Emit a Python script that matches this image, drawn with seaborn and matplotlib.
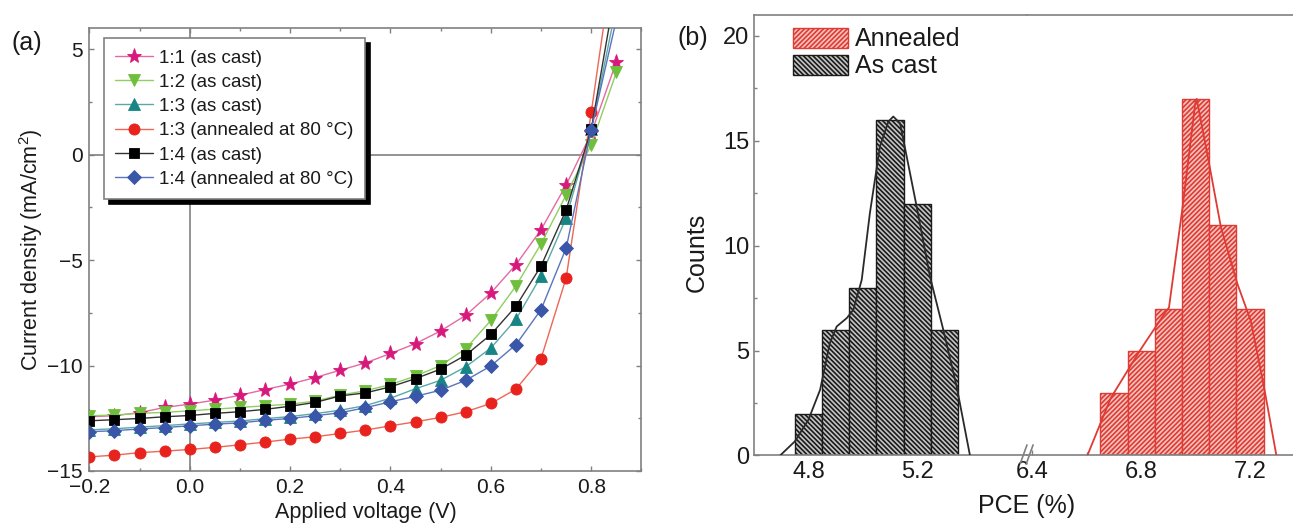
import numpy as np
import pandas as pd
import matplotlib
matplotlib.use('Agg')
from matplotlib import pyplot as plt
from matplotlib.ticker import MultipleLocator, FixedLocator
import seaborn as sns

# ---- (a) J-V curves ----
voltage = [-0.2, -0.15, -0.1, -0.05, 0.0, 0.05, 0.1, 0.15, 0.2, 0.25, 0.3,
           0.35, 0.4, 0.45, 0.5, 0.55, 0.6, 0.65, 0.7, 0.75, 0.8, 0.85]
j_11_cast = [-12.43, -12.38, -12.23, -11.99, -11.83, -11.64, -11.41, -11.14, -10.88, -10.57, -10.22,
             -9.88, -9.43, -8.96, -8.36, -7.62, -6.56, -5.22, -3.56, -1.44, 1.0, 4.4]
j_12_cast = [-12.38, -12.35, -12.27, -12.22, -12.15, -12.07, -11.99, -11.91, -11.83, -11.69, -11.40,
             -11.20, -10.90, -10.50, -10.00, -9.20, -7.86, -6.23, -4.23, -1.91, 0.47, 3.9]
j_13_cast = [-13.05, -13.0, -12.92, -12.85, -12.77, -12.7, -12.63, -12.52, -12.42, -12.28, -12.12,
             -11.9, -11.55, -11.1, -10.7, -10.06, -9.17, -7.81, -5.76, -3.0, 1.2, 7.05]
j_13_ann = [-14.33, -14.25, -14.13, -14.06, -13.98, -13.88, -13.76, -13.63, -13.49, -13.38, -13.22,
            -13.06, -12.86, -12.67, -12.46, -12.19, -11.8, -11.12, -9.67, -5.85, 2.0, 10.3]
j_14_cast = [-12.62, -12.57, -12.51, -12.43, -12.37, -12.27, -12.19, -12.08, -11.93, -11.75, -11.44,
             -11.3, -11.01, -10.62, -10.17, -9.51, -8.53, -7.19, -5.28, -2.62, 1.2, 8.06]
j_14_ann = [-13.14, -13.09, -13.01, -12.94, -12.86, -12.78, -12.72, -12.6, -12.51, -12.38, -12.24,
            -12.0, -11.72, -11.46, -11.17, -10.7, -10.02, -9.01, -7.35, -4.43, 1.17, 6.4]

labels_a = ['1:1 (as cast)', '1:2 (as cast)', '1:3 (as cast)',
            '1:3 (annealed at 80 °C)', '1:4 (as cast)', '1:4 (annealed at 80 °C)']

# ---- (b) PCE histograms ----
bins_cast = [4.75, 4.85, 4.95, 5.05, 5.15, 5.25, 5.35]
counts_cast = [2, 6, 8, 16, 12, 6]
bins_ann = [6.65, 6.75, 6.85, 6.95, 7.05, 7.15, 7.25]
counts_ann = [3, 5, 7, 17, 11, 7]

fit_cast_x = [4.696, 4.75, 4.80, 4.843, 4.879, 4.904, 4.941, 4.965, 4.996, 5.026,
              5.063, 5.094, 5.112, 5.137, 5.198, 5.247, 5.296, 5.345, 5.394]
fit_cast_y = [0.0, 0.67, 1.7, 3.13, 5.36, 6.15, 6.55, 6.94, 8.37, 11.55,
              14.73, 15.92, 16.16, 15.84, 11.87, 8.53, 5.99, 3.29, 0.0]
fit_ann_x = [6.602, 6.688, 6.798, 6.884, 6.902, 6.952, 7.0, 7.004, 7.052, 7.093, 7.154, 7.203, 7.252, 7.297]
fit_ann_y = [0.0, 2.74, 5.06, 6.73, 7.05, 11.83, 16.94, 17.0, 13.75, 10.88, 8.17, 6.41, 3.22, 0.0]

xticks_left = [4.8, 5.2]
xticks_right = [6.4, 6.8, 7.2]

sns.set_theme(style='ticks')
plt.rcParams['font.family'] = ['Liberation Sans', 'DejaVu Sans']
plt.rcParams['mathtext.fontset'] = 'custom'
plt.rcParams['mathtext.rm'] = 'Liberation Sans'
plt.rcParams['mathtext.default'] = 'regular'
plt.rcParams['hatch.linewidth'] = 1.2

gray = '#808080'
ink = '#1a1a1a'
fig = plt.figure(figsize=(12.93, 5.25), dpi=100)

# ================= panel (a) =================
ax = fig.add_axes([0.0691, 0.1029, 0.4270, 0.8438])
ax.axhline(0, color=gray, lw=1.2, zorder=1)
ax.axvline(0, color=gray, lw=1.2, zorder=1)

styles = [
    (j_11_cast, '*', '#d8197c', '#e36aa3', 11),
    (j_12_cast, 'v', '#6fbf3c', '#8fcf62', 8.5),
    (j_13_cast, '^', '#178583', '#5aa9a8', 8.5),
    (j_13_ann, 'o', '#e8221d', '#ee6656', 8),
    (j_14_cast, 's', '#000000', '#333333', 7.5),
    (j_14_ann, 'D', '#3a56a8', '#5a74bd', 7),
]
for (jv, mk, mc, lc, ms), lab in zip(styles, labels_a):
    sns.lineplot(x=voltage, y=jv, ax=ax, color=lc, lw=1.0, marker=mk, markersize=ms,
                 markerfacecolor=mc, markeredgecolor=mc, markeredgewidth=0.6,
                 label=lab, zorder=3)

ax.set_xlim(-0.2, 0.9)
ax.set_ylim(-15, 6)
ax.xaxis.set_major_locator(MultipleLocator(0.2))
ax.xaxis.set_minor_locator(MultipleLocator(0.1))
ax.yaxis.set_major_locator(MultipleLocator(5))
ax.yaxis.set_minor_locator(MultipleLocator(2.5))
ax.xaxis.set_major_formatter(lambda v, p: f'{v:.1f}'.replace('-', '\u2212'))
ax.yaxis.set_major_formatter(lambda v, p: f'{v:.0f}'.replace('-', '\u2212'))
ax.tick_params(which='both', direction='in', top=True, right=True, color=gray,
               labelsize=15, labelcolor=ink)
ax.tick_params(which='major', length=3.6, width=1.0)
ax.tick_params(which='minor', length=2.4, width=1.0)
ax.tick_params(axis='x', pad=5)
ax.tick_params(axis='y', pad=5)
for sp in ax.spines.values():
    sp.set_color(gray)
    sp.set_linewidth(1.2)
ax.set_xlabel('Applied voltage (V)', fontsize=15.5, color=ink)
ax.set_ylabel('Current density (mA/cm$^2$)', fontsize=15.5, color=ink)
ax.xaxis.set_label_coords(0.5, -0.07)
ax.yaxis.set_label_coords(-0.08, 0.5)

leg = ax.legend(loc='upper left', bbox_to_anchor=(0.0266, 0.977), borderaxespad=0,
                fontsize=13.5, frameon=True, fancybox=False, borderpad=0.6,
                handlelength=2.0, handletextpad=0.35, labelspacing=0.38,
                shadow={'ox': 3.5, 'oy': -3.5, 'color': 'black', 'alpha': 1})
leg.get_frame().set_edgecolor(gray)
leg.get_frame().set_linewidth(1.2)
for t in leg.get_texts():
    t.set_color(ink)

fig.text(27 / 1293, 1 - 43 / 525, '(a)', fontsize=18, ha='center', va='center', color=ink)

# ================= panel (b), broken x axis =================
px = 272 / 1293  # figure fraction per PCE unit
bot, hgt = 0.1324, 0.839
xl = (4.6, 5.6036)
xr = (6.38, 7.40)
ax_l = fig.add_axes([754 / 1293, bot, (xl[1] - xl[0]) * px, hgt])
ax_r = fig.add_axes([754 / 1293 + (xl[1] - xl[0]) * px, bot, (xr[1] - xr[0]) * px, hgt], sharey=ax_l)

cent_cast = [(a + b) / 2 for a, b in zip(bins_cast[:-1], bins_cast[1:])]
cent_ann = [(a + b) / 2 for a, b in zip(bins_ann[:-1], bins_ann[1:])]

sns.histplot(x=cent_cast, weights=counts_cast, bins=bins_cast, ax=ax_l,
             facecolor='#c4c4c4', edgecolor=ink, hatch='\\' * 7, linewidth=1.0,
             label='As cast', zorder=2)
sns.histplot(x=cent_ann, weights=counts_ann, bins=bins_ann, ax=ax_r,
             facecolor='#f3c3bd', edgecolor='#e03a34', hatch='/' * 7, linewidth=1.0,
             label='Annealed', zorder=2)
sns.lineplot(x=fit_cast_x, y=fit_cast_y, ax=ax_l, color='#2a2a2a', lw=1.3, zorder=3, legend=False)
sns.lineplot(x=fit_ann_x, y=fit_ann_y, ax=ax_r, color='#e03a34', lw=1.3, zorder=3, legend=False)
if ax_r.get_legend() is not None:
    ax_r.get_legend().remove()

ax_l.set_xlim(*xl)
ax_r.set_xlim(*xr)
ax_l.set_ylim(0, 21)
ax_l.xaxis.set_major_locator(FixedLocator(xticks_left))
ax_l.xaxis.set_minor_locator(FixedLocator([5.0]))
ax_r.xaxis.set_major_locator(FixedLocator(xticks_right))
ax_r.xaxis.set_minor_locator(FixedLocator([6.6, 7.0]))
ax_l.yaxis.set_major_locator(MultipleLocator(5))
ax_l.yaxis.set_minor_locator(MultipleLocator(2.5))
ax_l.xaxis.set_major_formatter(lambda v, p: f'{v:.1f}')
ax_r.xaxis.set_major_formatter(lambda v, p: f'{v:.1f}')

for a in (ax_l, ax_r):
    a.tick_params(which='both', direction='in', color=gray, labelsize=17, labelcolor=ink)
    a.tick_params(which='major', length=3.6, width=1.0)
    a.tick_params(which='minor', length=2.4, width=1.0)
    a.tick_params(axis='x', pad=4.3)
    a.tick_params(axis='y', pad=3.5)
    for sp in a.spines.values():
        sp.set_color(gray)
        sp.set_linewidth(1.2)
    a.set_xlabel('')
    a.set_ylabel('')
ax_l.spines['right'].set_visible(False)
ax_r.spines['left'].set_visible(False)
ax_r.spines['right'].set_visible(False)
ax_r.tick_params(axis='y', which='both', left=False, labelleft=False)

ax_l.set_ylabel('Counts', fontsize=18, color=ink)
ax_l.yaxis.set_label_coords(-0.165, 0.46)
ax_l.set_xlabel('PCE (%)', fontsize=18, color=ink)
ax_l.xaxis.set_label_coords(1.0, -0.088)

# break marks on the x axis
for dx in (-0.016, 0.006):
    ax_r.plot([dx - 0.008, dx + 0.016], [-0.018, 0.024], transform=ax_r.transAxes,
              color=gray, lw=1.2, clip_on=False, zorder=5)

leg_b = ax_l.legend(handles=[ax_r.containers[0], ax_l.containers[0]],
                    labels=['Annealed', 'As cast'], loc='upper left',
                    bbox_to_anchor=(0.143, 0.972), borderaxespad=0, borderpad=0,
                    frameon=False, fontsize=18, handlelength=2.2, handleheight=0.87,
                    handletextpad=0.28, labelspacing=0.12)
for t in leg_b.get_texts():
    t.set_color(ink)

fig.text(693 / 1293, 1 - 38 / 525, '(b)', fontsize=18, ha='center', va='center', color=ink)

fig.savefig('out.png', dpi=100)
